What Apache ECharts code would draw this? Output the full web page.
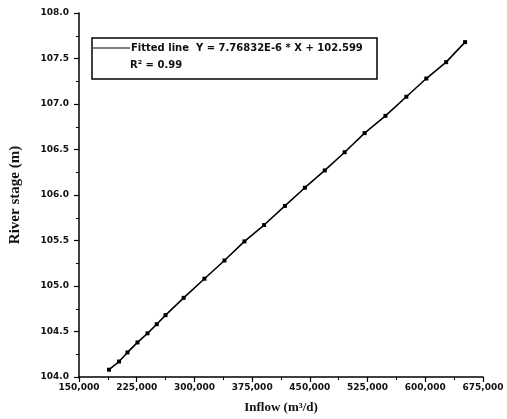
<!DOCTYPE html>
<html>
<head>
<meta charset="utf-8">
<script src="https://cdn.jsdelivr.net/npm/echarts@6/dist/echarts.min.js"></script>
<style>
html,body{margin:0;padding:0;background:#fff;}
#chart{width:507px;height:419px;}
</style>
</head>
<body>
<div id="chart"></div>
<script>
var inflow = [189000, 202000, 213000, 226000, 239000, 251000, 262500, 286000, 313000, 339000, 365000, 390500, 417600, 443500, 469400, 495200, 521100, 548200, 575400, 601300, 627100, 651700];
var stage  = [104.08, 104.17, 104.27, 104.38, 104.48, 104.58, 104.68, 104.87, 105.08, 105.28, 105.49, 105.67, 105.88, 106.08, 106.27, 106.47, 106.68, 106.87, 107.08, 107.28, 107.46, 107.68];
var legendLine1 = 'Fitted line  Y = 7.76832E-6 * X + 102.599';
var legendLine2 = 'R\u00B2 = 0.99';
var xTitle = 'Inflow (m\u00B3/d)';
var yTitle = 'River stage (m)';

var pts = inflow.map(function (x, i) { return [x, stage[i]]; });
var chart = echarts.init(document.getElementById('chart'));
var tickFont = { fontFamily: 'DejaVu Sans', fontWeight: 'bold', fontSize: 9, color: '#111' };
chart.setOption({
  animation: false,
  backgroundColor: '#fff',
  grid: { left: 77, right: 24, top: 13, bottom: 40, containLabel: false },
  xAxis: {
    type: 'value', min: 150000, max: 675000, interval: 75000,
    name: xTitle, nameLocation: 'middle', nameGap: 24,
    nameTextStyle: { fontFamily: 'Liberation Serif', fontWeight: 'bold', fontSize: 13, color: '#111' },
    axisLine: { show: true, lineStyle: { color: '#000', width: 1.5 } },
    axisTick: { show: true, inside: false, length: 5, lineStyle: { color: '#000', width: 1.2 } },
    minorTick: { show: true, splitNumber: 2, length: 3, lineStyle: { color: '#000', width: 1 } },
    splitLine: { show: false },
    axisLabel: Object.assign({ margin: 6, formatter: function (v) { return v.toLocaleString('en-US'); } }, tickFont)
  },
  yAxis: {
    type: 'value', min: 104, max: 108, interval: 0.5,
    name: yTitle, nameLocation: 'middle', nameGap: 56, nameRotate: 90,
    nameTextStyle: { fontFamily: 'Liberation Serif', fontWeight: 'bold', fontSize: 15, color: '#111' },
    axisLine: { show: true, lineStyle: { color: '#000', width: 1.5 } },
    axisTick: { show: true, inside: false, length: 5, lineStyle: { color: '#000', width: 1.2 } },
    minorTick: { show: true, splitNumber: 2, length: 3, lineStyle: { color: '#000', width: 1 } },
    splitLine: { show: false },
    axisLabel: Object.assign({ margin: 10, formatter: function (v) { return v.toFixed(1); } }, tickFont)
  },
  series: [{
    type: 'line', data: pts,
    symbol: 'rect', symbolSize: 4,
    itemStyle: { color: '#000' },
    lineStyle: { color: '#000', width: 1.6 }
  }],
  graphic: [
    { type: 'rect', shape: { x: 92, y: 38, width: 285, height: 41 }, style: { fill: '#fff', stroke: '#000', lineWidth: 1.5 }, z: 10 },
    { type: 'line', shape: { x1: 93, y1: 48, x2: 130, y2: 48 }, style: { stroke: '#000', lineWidth: 1.2 }, z: 11 },
    { type: 'text', x: 131, y: 48, style: { text: legendLine1, fontFamily: 'DejaVu Sans', fontWeight: 'bold', fontSize: 10, fill: '#111', verticalAlign: 'middle' }, z: 11 },
    { type: 'text', x: 130, y: 65, style: { text: legendLine2, fontFamily: 'DejaVu Sans', fontWeight: 'bold', fontSize: 10, fill: '#111', verticalAlign: 'middle' }, z: 11 }
  ]
});
</script>
</body>
</html>
